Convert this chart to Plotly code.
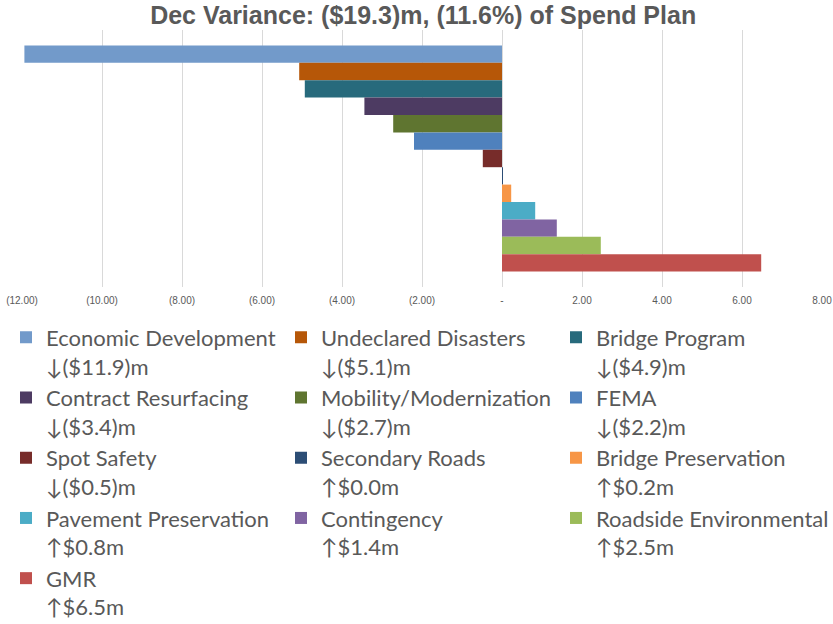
"""Dec variance by program: grouped horizontal bars with a 3-column legend."""

import plotly.graph_objects as go

programs = [
    "Economic Development", "Undeclared Disasters", "Bridge Program",
    "Contract Resurfacing", "Mobility/Modernization", "FEMA",
    "Spot Safety", "Secondary Roads", "Bridge Preservation",
    "Pavement Preservation", "Contingency", "Roadside Environmental", "GMR",
]
variance = [-11.94, -5.07, -4.93, -3.44, -2.72, -2.20,
            -0.48, 0.02, 0.23, 0.83, 1.37, 2.47, 6.48]
colors = ["#729ACA", "#B65708", "#276A7C", "#4D3B62", "#5F7530", "#4F81BD",
          "#772C2A", "#2C4D75", "#F79646", "#4BACC6", "#8064A2", "#9BBB59", "#C0504D"]

tick_vals = [-12, -10, -8, -6, -4, -2, 0, 2, 4, 6, 8]
tick_text = ["(12.00)", "(10.00)", "(8.00)", "(6.00)", "(4.00)", "(2.00)", "-",
             "2.00", "4.00", "6.00", "8.00"]

title = "Dec Variance: ($19.3)m, (11.6%) of Spend Plan"


def legend_label(name, v):
    if v < 0:
        return f"{name}<br>\u2193(${abs(v):.1f})m"
    return f"{name}<br>\u2191${v:.1f}m"


fig = go.Figure()
for name, v, c in zip(programs, variance, colors):
    fig.add_trace(go.Bar(
        x=[v], y=["Dec"], orientation="h", name=legend_label(name, v),
        marker=dict(color=c, line_width=0),
    ))

fig.update_layout(
    width=833, height=624,
    paper_bgcolor="white", plot_bgcolor="white",
    margin=dict(l=22, r=11, t=30, b=337, autoexpand=False),
    barmode="group", bargap=0.12, bargroupgap=0,
    title=dict(text=f"<b>{title}</b>", x=0.508, xanchor="center", y=0.976,
               yanchor="middle",
               font=dict(family="Liberation Sans", size=25, color="#595959")),
    xaxis=dict(range=[-12, 8], tickvals=tick_vals, ticktext=tick_text,
               showgrid=True, gridcolor="#D9D9D9", gridwidth=1,
               zeroline=False, showline=False, automargin=False,
               ticks="outside", ticklen=4, tickcolor="rgba(0,0,0,0)",
               tickfont=dict(family="Liberation Sans Narrow, Liberation Sans",
                             size=10, color="#595959")),
    yaxis=dict(autorange="reversed", showticklabels=False, showgrid=False,
               zeroline=False, automargin=False),
    legend=dict(orientation="h", x=-0.02, xanchor="left", y=-0.115, yanchor="top",
                entrywidth=230, valign="top", traceorder="normal",
                font=dict(family="Lato", size=22, color="#595959")),
    showlegend=True,
)

fig.write_html("out.html", config={"displayModeBar": False},
               post_script="document.body.style.margin = '0';")
